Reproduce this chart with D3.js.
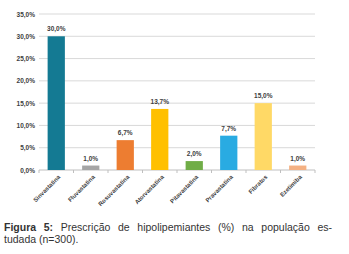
<!DOCTYPE html>
<html>
<head>
<meta charset="utf-8">
<script src="https://cdn.jsdelivr.net/npm/d3@7"></script>
<style>
body { margin: 0; background: #fff; }
svg text { font-family: "Liberation Sans Narrow", "Liberation Sans", Arial, sans-serif; }
</style>
</head>
<body>
<div id="chart"></div>
<script>
var categories = ['Sinvastatina', 'Fluvastatina', 'Rosuvastatina', 'Atorvastatina',
    'Pitavastatina', 'Pravastatina', 'Fibratos', 'Ezetimiba']
var values = [30.0, 1.0, 6.7, 13.7, 2.0, 7.7, 15.0, 1.0]
var colors = ['#147a93', '#a5a5a5', '#ed7d31', '#ffc000', '#70ad47', '#29abe2', '#ffd966', '#f4b183']
var yticks = [0, 5, 10, 15, 20, 25, 30, 35]

var width = 349,
    height = 254

var svg = d3.select('#chart')
    .append('svg')
    .attr('width', width)
    .attr('height', height)
    .style('display', 'block')

// scales
var xscale = d3.scaleBand()
    .domain(categories)
    .range([39, 315])
    .paddingInner(0.5)
    .paddingOuter(0.25)

var yscale = d3.scaleLinear()
    .domain([0, 35])
    .range([170, 14])

var fmt = d => d3.format('.1f')(d).replace('.', ',') + '%'

// grid
svg.append('g')
    .selectAll('line')
    .data(yticks)
    .enter()
    .append('line')
    .attr('x1', 39)
    .attr('x2', 315)
    .attr('y1', d => yscale(d))
    .attr('y2', d => yscale(d))
    .attr('stroke', d => d === 0 ? '#bfbfbf' : '#d9d9d9')
    .attr('stroke-width', 1)

// y axis
var yaxis = d3.axisLeft(yscale)
    .tickValues(yticks)
    .tickSize(0)
    .tickPadding(4)
    .tickFormat(fmt)
var gy = svg.append('g')
    .attr('transform', 'translate(39,0)')
    .call(yaxis)
gy.select('.domain').remove()
gy.selectAll('text')
    .attr('font-size', 6.5)
    .attr('fill', '#404040')
    .attr('font-weight', 'bold')

// x axis ticks at band boundaries
var step = xscale.step()
svg.append('g')
    .selectAll('line')
    .data(d3.range(categories.length + 1))
    .enter()
    .append('line')
    .attr('x1', i => 39 + i * step)
    .attr('x2', i => 39 + i * step)
    .attr('y1', yscale(0))
    .attr('y2', yscale(0) + 3)
    .attr('stroke', '#bfbfbf')

// bars
svg.append('g')
    .selectAll('rect')
    .data(values)
    .enter()
    .append('rect')
    .attr('x', (d, i) => xscale(categories[i]))
    .attr('y', d => yscale(d))
    .attr('width', xscale.bandwidth())
    .attr('height', d => yscale(0) - yscale(d))
    .attr('fill', (d, i) => colors[i])

// value labels
svg.append('g')
    .selectAll('text')
    .data(values)
    .enter()
    .append('text')
    .attr('x', (d, i) => xscale(categories[i]) + xscale.bandwidth() / 2)
    .attr('y', d => yscale(d) - 5)
    .attr('text-anchor', 'middle')
    .attr('font-size', 6.5)
    .attr('font-weight', 'bold')
    .attr('fill', '#404040')
    .text(fmt)

// category labels
svg.append('g')
    .selectAll('text')
    .data(categories)
    .enter()
    .append('text')
    .attr('transform', d => 'translate(' + (xscale(d) + xscale.bandwidth() / 2 + 3) + ',' + (yscale(0) + 6) + ') rotate(-45)')
    .attr('text-anchor', 'end')
    .attr('dy', '0.35em')
    .attr('font-size', 6)
    .attr('font-weight', 'bold')
    .attr('fill', '#404040')
    .text(d => d)

// caption (first line justified like the print layout)
var cap = svg.append('text')
    .attr('x', 4)
    .attr('y', 231)
    .attr('font-size', 10.5)
    .attr('fill', '#333')
    .style('font-family', '"Liberation Sans", Arial, sans-serif')
cap.append('tspan').attr('font-weight', 'bold').text('Figura 5:')
cap.append('tspan').text(' Prescrição de hipolipemiantes (%) na população es-')
var natural = cap.node().getComputedTextLength()
cap.attr('word-spacing', Math.max(0, (328 - natural) / 8))

svg.append('text')
    .attr('x', 4)
    .attr('y', 243)
    .attr('font-size', 10.5)
    .attr('fill', '#333')
    .style('font-family', '"Liberation Sans", Arial, sans-serif')
    .text('tudada (n=300).')
</script>
</body>
</html>
